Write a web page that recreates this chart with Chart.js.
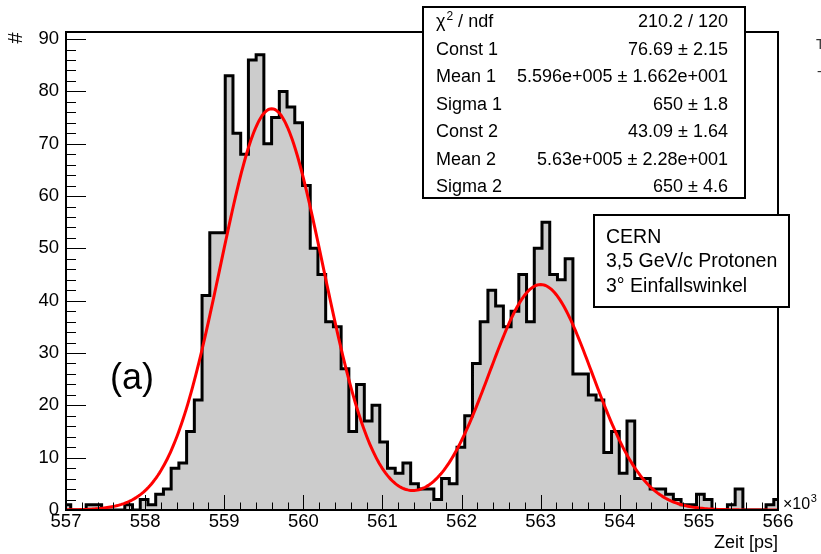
<!DOCTYPE html>
<html>
<head>
<meta charset="utf-8">
<title>Zeitspektrum CERN</title>
<script src="https://cdn.jsdelivr.net/npm/chart.js@4/dist/chart.umd.min.js"></script>
<style>
  html, body { margin: 0; padding: 0; background: #fff; }
  canvas { display: block; }
</style>
</head>
<body>
<canvas id="chartCanvas" width="821" height="554"></canvas>
<script>
// ---------------------------------------------------------------
// Daten: Zeitspektrum (x in 10^3 ps), Histogramm + Doppel-Gauss-Fit
// ---------------------------------------------------------------
var binStart = 556.962   // untere Kante des ersten Bins [10^3 ps]
var binWidth = 0.09766   // Binbreite 97.66 ps

// Einträge pro Bin
var counts = [
  1, 0, 0, 1, 1, 0, 0, 0, 1, 0, 2, 1, 3, 4, 8, 9, 15, 21, 41, 53, 53,
  83, 72, 68, 86, 87, 70, 75, 80, 77, 74, 62, 50, 45, 36, 35, 27, 15, 24, 17, 20,
  13, 8, 7, 9, 5, 4, 4, 2, 6, 5, 12, 18, 28, 36, 42, 39, 35, 38, 45, 36,
  50, 55, 45, 44, 48, 26, 26, 22, 21, 11, 15, 7, 17, 6, 6, 4, 4, 3, 2, 1,
  1, 3, 2, 0, 0, 1, 4, 0, 0, 0, 1, 2
]

// Fitparameter aus der Statistikbox (Mean/Sigma in ps)
var fitConst = [76.69, 43.09]
var fitMean = [5.596e5, 5.63e5]
var fitSigma = [650, 650]

// Achsen
var xTicks = [557, 558, 559, 560, 561, 562, 563, 564, 565, 566]
var yTicks = [0, 10, 20, 30, 40, 50, 60, 70, 80, 90]
var xMin = 557
var xMax = 566
var yMax = 91.35

// Texte
var chiLabel = ' / ndf'
var chiValue = '210.2 / 120'
var statNames = ['Const 1', 'Mean 1', 'Sigma 1', 'Const 2', 'Mean 2', 'Sigma 2']
var statValues = ['76.69 \u00b1 2.15', '5.596e+005 \u00b1 1.662e+001', '650 \u00b1 1.8',
                  '43.09 \u00b1 1.64', '5.63e+005 \u00b1 2.28e+001', '650 \u00b1 4.6']
var infoLines = ['CERN', '3,5 GeV/c Protonen', '3\u00b0 Einfallswinkel']

var FONT = '"Liberation Sans", Arial, Helvetica, sans-serif'
Chart.defaults.font.family = FONT

// Histogramm als Stufenlinie (Punkte an den linken Binkanten)
var histPoints = counts.map((c, i) => ({ x: binStart + i * binWidth, y: c }))
histPoints.push({ x: binStart + counts.length * binWidth, y: 0 })

// Fitfunktion: Summe zweier Gauss-Kurven
function fitFunc(t) {
  var ps = t * 1000
  var sum = 0
  for (var g = 0; g < fitConst.length; g++) {
    var u = (ps - fitMean[g]) / fitSigma[g]
    sum += fitConst[g] * Math.exp(-0.5 * u * u)
  }
  return sum
}
var fitPoints = []
for (var k = 0; k <= 450; k++) {
  var t = xMin + k * 0.02
  fitPoints.push({ x: t, y: fitFunc(t) })
}

// ROOT-artiger Rahmen, Ticks nach innen, Statistik- und Infobox
var rootStyle = {
  id: 'rootStyle',
  afterDatasetsDraw(chart) {
    var ctx = chart.ctx
    var a = chart.chartArea
    var sx = chart.scales.x
    var sy = chart.scales.y
    ctx.save()
    ctx.strokeStyle = '#000'
    ctx.lineWidth = 1
    ctx.beginPath()
    for (var i = 0; i <= 45; i++) {
      var px = Math.round(sx.getPixelForValue(xMin + i * 0.2)) + 0.5
      var len = i % 5 === 0 ? 15 : 7.5
      ctx.moveTo(px, a.bottom)
      ctx.lineTo(px, a.bottom - len)
    }
    for (var j = 0; j <= 45; j++) {
      var v = j * 2
      if (v > yMax) break
      var py = Math.round(sy.getPixelForValue(v)) + 0.5
      var l = j % 5 === 0 ? 20 : 10
      ctx.moveTo(a.left, py)
      ctx.lineTo(a.left + l, py)
    }
    ctx.stroke()
    ctx.lineWidth = 2
    ctx.strokeRect(a.left, a.top, a.right - a.left, a.bottom - a.top)
    ctx.restore()
  },
  afterDraw(chart) {
    var ctx = chart.ctx
    ctx.save()
    ctx.fillStyle = '#000'
    ctx.strokeStyle = '#000'
    ctx.lineWidth = 2

    // Statistikbox
    ctx.fillStyle = '#fff'
    ctx.fillRect(423, 7, 322, 191)
    ctx.strokeRect(423, 7, 322, 191)
    ctx.fillStyle = '#000'
    ctx.font = '18px ' + FONT
    ctx.textBaseline = 'alphabetic'
    ctx.textAlign = 'left'
    ctx.fillText('\u03c7', 436, 27)
    var w = ctx.measureText('\u03c7').width
    ctx.font = '12px ' + FONT
    ctx.fillText('2', 436 + w + 1, 20)
    var w2 = ctx.measureText('2').width
    ctx.font = '18px ' + FONT
    ctx.fillText(chiLabel, 436 + w + w2 + 1, 27)
    ctx.textAlign = 'right'
    ctx.fillText(chiValue, 728, 27)
    for (var r = 0; r < statNames.length; r++) {
      var by = 55 + r * 27.4
      ctx.textAlign = 'left'
      ctx.fillText(statNames[r], 436, by)
      ctx.textAlign = 'right'
      ctx.fillText(statValues[r], 728, by)
    }

    // Infobox
    ctx.fillStyle = '#fff'
    ctx.fillRect(594, 215, 195, 92)
    ctx.strokeRect(594, 215, 195, 92)
    ctx.fillStyle = '#000'
    ctx.textAlign = 'left'
    ctx.font = '19.5px ' + FONT
    infoLines.forEach((s, i) => ctx.fillText(s, 606, 242.5 + i * 24.5))

    // Beschriftungen
    ctx.font = '36px ' + FONT
    ctx.fillText('(a)', 110, 389)

    ctx.font = '18px ' + FONT
    ctx.textAlign = 'right'
    ctx.fillText('Zeit [ps]', 778, 548)

    ctx.textAlign = 'left'
    ctx.font = '16px ' + FONT
    ctx.fillText('\u00d710', 783, 509)
    var w3 = ctx.measureText('\u00d710').width
    ctx.font = '11px ' + FONT
    ctx.fillText('3', 783 + w3 + 0.5, 502)

    ctx.font = '14px ' + FONT
    ctx.fillStyle = '#333'
    ctx.fillText('T', 816, 49)
    ctx.fillText('-', 817, 76)

    // y-Achsentitel
    ctx.fillStyle = '#000'
    ctx.font = '20px ' + FONT
    ctx.translate(16, 38)
    ctx.rotate(-Math.PI / 2)
    ctx.textAlign = 'center'
    ctx.textBaseline = 'middle'
    ctx.fillText('#', 0, 0)
    ctx.restore()
  }
}

var ctx = document.getElementById('chartCanvas')
var myChart = new Chart(ctx, {
  type: 'line',
  data: {
    datasets: [
      {
        label: 'Fit',
        data: fitPoints,
        borderColor: '#ff0000',
        borderWidth: 3,
        pointRadius: 0,
        fill: false,
        tension: 0,
        order: 1
      },
      {
        label: 'Zeit',
        data: histPoints,
        stepped: true,
        borderColor: '#000',
        borderWidth: 3,
        backgroundColor: '#cccccc',
        fill: 'origin',
        pointRadius: 0,
        order: 2
      }
    ]
  },
  options: {
    responsive: false,
    animation: false,
    devicePixelRatio: 1,
    layout: { padding: { top: 32, right: 43, left: 0, bottom: 0 } },
    plugins: { legend: { display: false }, tooltip: { enabled: false } },
    scales: {
      x: {
        type: 'linear',
        min: xMin,
        max: xMax,
        grid: { display: false, drawTicks: false },
        border: { display: false },
        afterBuildTicks: s => { s.ticks = xTicks.map(v => ({ value: v })) },
        afterFit: s => { s.height = 44 },
        ticks: { autoSkip: false, maxRotation: 0, padding: 1, color: '#000', font: { size: 18.5 } }
      },
      y: {
        type: 'linear',
        min: 0,
        max: yMax,
        grid: { display: false, drawTicks: false },
        border: { display: false },
        afterBuildTicks: s => { s.ticks = yTicks.map(v => ({ value: v })) },
        afterFit: s => { s.width = 66 },
        ticks: { padding: 7, color: '#000', font: { size: 18.5 } }
      }
    }
  },
  plugins: [rootStyle]
})
</script>
</body>
</html>
